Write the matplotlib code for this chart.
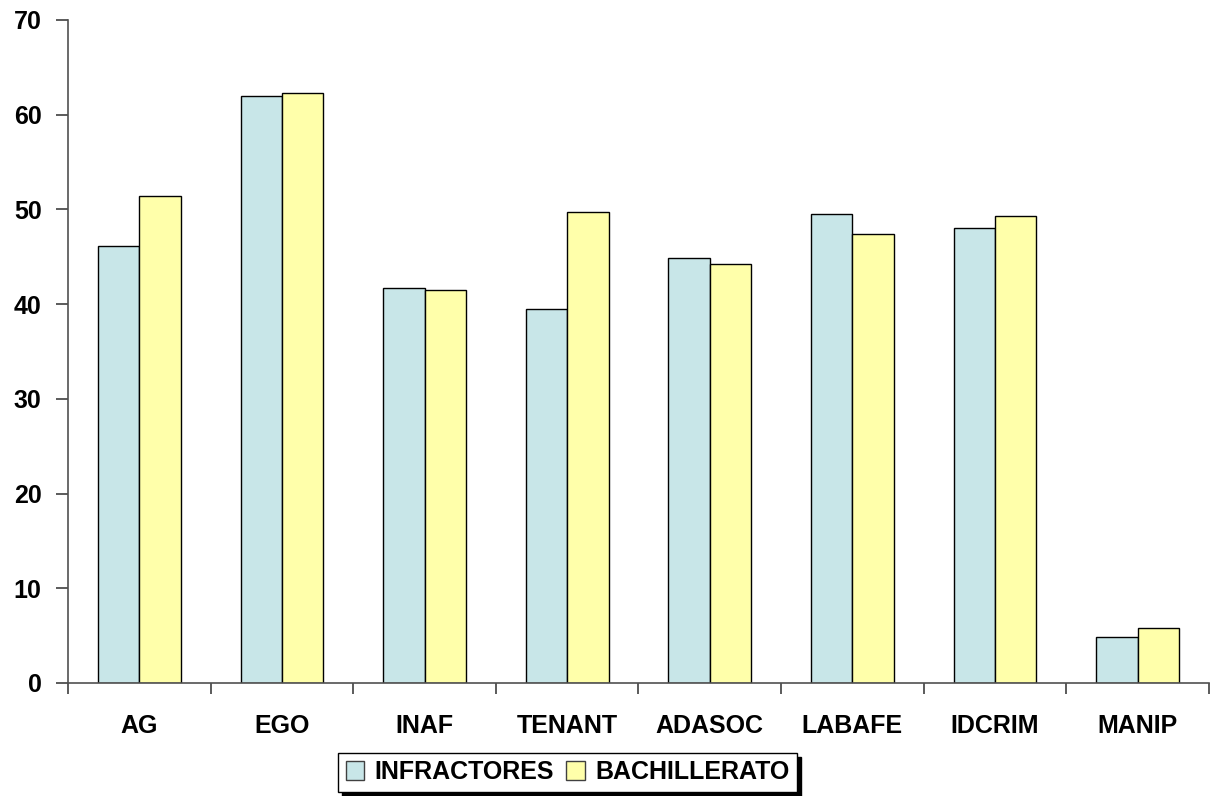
import matplotlib
matplotlib.use("Agg")
import matplotlib.pyplot as plt
import numpy as np

plt.rcParams['font.family'] = ['Liberation Sans', 'DejaVu Sans']
plt.rcParams['font.weight'] = 'bold'

escalas = ["AG", "EGO", "INAF", "TENANT", "ADASOC", "LABAFE", "IDCRIM", "MANIP"]
infractores = [46.1, 62.0, 41.7, 39.5, 44.9, 49.5, 48.0, 4.9]
bachillerato = [51.4, 62.3, 41.5, 49.7, 44.2, 47.4, 49.3, 5.8]

fig = plt.figure(figsize=(12.15, 7.96), dpi=100)
ax = fig.add_axes([0.056, 0.142, 0.939, 0.833])

x = np.arange(len(escalas))
ancho = 0.29
ax.bar(x - ancho / 2, infractores, ancho, color="#C8E6E8", edgecolor="black",
       linewidth=1, label="INFRACTORES")
ax.bar(x + ancho / 2, bachillerato, ancho, color="#FFFFAA", edgecolor="black",
       linewidth=1, label="BACHILLERATO")

ax.set_xlim(-0.5, len(escalas) - 0.5)
ax.set_ylim(0, 70)
ax.set_yticks(range(0, 71, 10))

# categorias en el centro, marcas entre grupos
ax.set_xticks(x)
ax.set_xticklabels(escalas, fontsize=18, fontweight="bold")
ax.tick_params(axis="x", which="major", length=0, pad=22)
ax.set_xticks(np.arange(-0.5, len(escalas), 1), minor=True)
ax.tick_params(axis="x", which="minor", length=8, width=1.2, color="#404040", direction="out")
ax.tick_params(axis="y", length=9, width=1.2, color="#404040", labelsize=18, pad=10)
for t in ax.get_yticklabels():
    t.set_fontweight("bold")

for s in ["top", "right"]:
    ax.spines[s].set_visible(False)
for s in ["left", "bottom"]:
    ax.spines[s].set_color("#505050")
    ax.spines[s].set_linewidth(1.2)

h, l = ax.get_legend_handles_labels()
leg = fig.legend(h, l, loc="center", bbox_to_anchor=(0.467, 0.030), ncol=2, frameon=True,
                 fancybox=False, shadow={"color": "black", "alpha": 1, "ox": 3, "oy": -3},
                 prop={"size": 18, "weight": "bold"}, handlelength=0.75,
                 handleheight=0.75, handletextpad=0.4, columnspacing=0.5,
                 borderpad=0.3, borderaxespad=0)
leg.get_frame().set_edgecolor("black")
leg.get_frame().set_linewidth(1)
for p in leg.legend_handles:
    p.set_edgecolor("#404040")

fig.savefig("out.png", dpi=100)
